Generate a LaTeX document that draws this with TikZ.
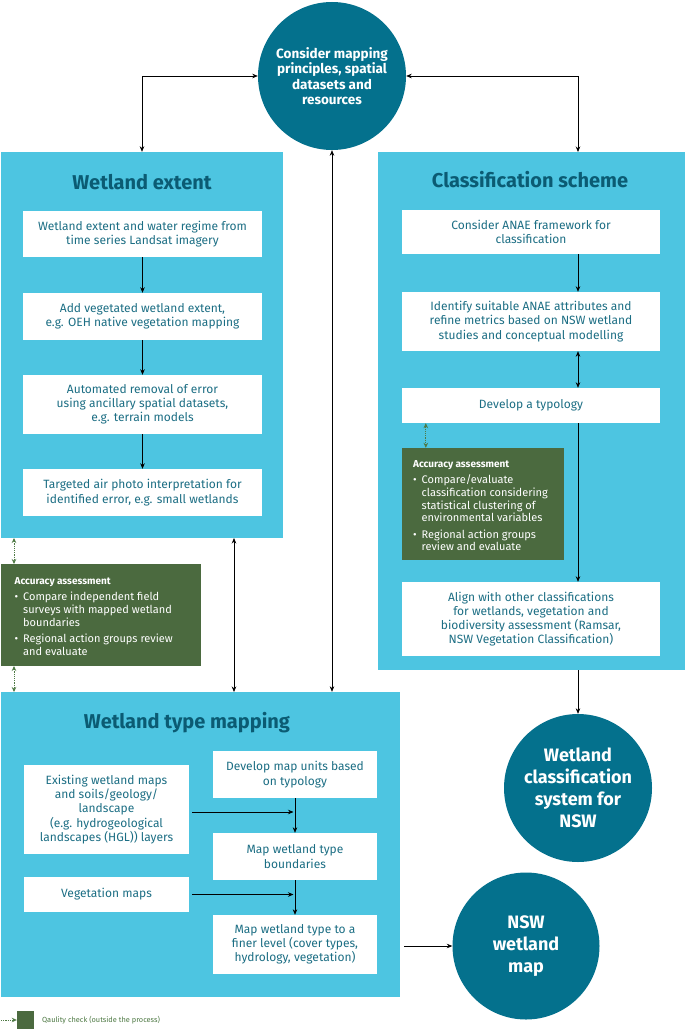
\documentclass[tikz,border=0pt]{standalone}
\usepackage{fontspec}
\setmainfont{Fira Sans}
\usetikzlibrary{arrows.meta,calc}
\definecolor{panel}{HTML}{4DC5E1}
\definecolor{titlec}{HTML}{0B5B73}
\definecolor{boxtext}{HTML}{1C6E84}
\definecolor{circc}{HTML}{04718D}
\definecolor{accg}{HTML}{4B6A3F}
\definecolor{garrc}{HTML}{4F7A45}
\newcommand{\bitem}[2]{\makebox[8.5pt][l]{\textbullet}\parbox[t]{#1}{\raggedright #2}}
\begin{document}
\begin{tikzpicture}[x=1pt,y=-1pt,
  panelbox/.style={fill=panel,draw=none,inner sep=0},
  wbox/.style={fill=white,text=boxtext,align=center,inner sep=0,font=\fontsize{12}{14.2}\selectfont},
  ptitle/.style={text=titlec,font=\fontsize{20}{24}\selectfont\bfseries,inner sep=0},
  circnode/.style={circle,fill=circc,text=white,align=center,inner sep=0},
  accbox/.style={fill=accg,inner sep=0},
  acctext/.style={text=white,align=left,inner sep=0,anchor=north west,font=\fontsize{11}{12.7}\selectfont},
  arr/.style={-{Stealth[length=5.5pt,width=4.5pt]},line width=0.7pt,black},
  darr/.style={{Stealth[length=5.5pt,width=4.5pt]}-{Stealth[length=5.5pt,width=4.5pt]},line width=0.7pt,black},
  garr/.style={{Stealth[length=5pt,width=4.5pt]}-{Stealth[length=5pt,width=4.5pt]},line width=0.7pt,garrc,dash pattern=on 1.2pt off 1pt}
]
\useasboundingbox[fill=white] (0,0) rectangle (685,1030);

% panels
\node[panelbox,minimum width=282pt,minimum height=386pt] (wep) at (142,345) {};
\node[panelbox,minimum width=307pt,minimum height=518pt] (csp) at (531.5,411) {};
\node[panelbox,minimum width=399pt,minimum height=305pt] (wtp) at (200.5,844.5) {};

% titles
\node[ptitle] (wet) at (142,182) {Wetland extent};
\node[ptitle] (cst) at (530,180) {Classification scheme};
\node[ptitle] (wtt) at (187,723) {Wetland type mapping};

% circles
\node[circnode,minimum size=148pt,font=\fontsize{13.5}{15.5}\selectfont\bfseries] (top) at (332,76) {Consider mapping\\principles, spatial\\datasets and\\resources};
\node[circnode,minimum size=148pt,font=\fontsize{18}{22}\selectfont\bfseries] (c2) at (578,788) {Wetland\\classification\\system for\\NSW};
\node[circnode,minimum size=147pt,font=\fontsize{18}{22}\selectfont\bfseries] (c3) at (526,946) {NSW\\wetland\\map};

% wetland extent boxes
\node[wbox,minimum width=239pt,minimum height=46pt] (we1) at (142.5,234) {Wetland extent and water regime from\\time series Landsat imagery};
\node[wbox,minimum width=239pt,minimum height=47pt] (we2) at (142.5,316.5) {Add vegetated wetland extent,\\e.g. OEH native vegetation mapping};
\node[wbox,minimum width=239pt,minimum height=59pt] (we3) at (142.5,404.5) {Automated removal of error\\using ancillary spatial datasets,\\e.g. terrain models};
\node[wbox,minimum width=239pt,minimum height=47pt] (we4) at (142.5,492.5) {Targeted air photo interpretation for\\identified error, e.g. small wetlands};

% classification boxes
\node[wbox,minimum width=258pt,minimum height=44pt] (cs1) at (531,232) {Consider ANAE framework for\\classification};
\node[wbox,minimum width=258pt,minimum height=59pt] (cs2) at (531,321.5) {Identify suitable ANAE attributes and\\refine metrics based on NSW wetland\\studies and conceptual modelling};
\node[wbox,minimum width=258pt,minimum height=35pt] (cs3) at (531,405.5) {Develop a typology};
\node[wbox,minimum width=258pt,minimum height=74pt] (cs4) at (531,619) {Align with other classifications\\for wetlands, vegetation and\\biodiversity assessment (Ramsar,\\NSW Vegetation Classification)};

% accuracy boxes
\node[accbox,minimum width=162pt,minimum height=112pt] (acc2) at (483,504) {};
\node[acctext] (acc2t) at (413,460.5) {{\fontsize{10}{12}\selectfont\bfseries Accuracy assessment}\\[3.5pt]
\bitem{140pt}{Compare/evaluate\\classification considering\\statistical clustering of\\environmental variables}\\[6.5pt]
\bitem{140pt}{Regional action groups\\review and evaluate}};
\node[accbox,minimum width=200pt,minimum height=102pt] (acc1) at (101,615) {};
\node[acctext] (acc1t) at (14.5,577.5) {{\fontsize{10}{12}\selectfont\bfseries Accuracy assessment}\\[3.5pt]
\bitem{175pt}{Compare independent field\\surveys with mapped wetland\\boundaries}\\[6.5pt]
\bitem{175pt}{Regional action groups review\\and evaluate}};

% wetland type mapping boxes
\node[wbox,minimum width=165pt,minimum height=89pt] (wt1) at (106.5,809.5) {Existing wetland maps\\and soils/geology/\\landscape\\(e.g. hydrogeological\\landscapes (HGL)) layers};
\node[wbox,minimum width=165pt,minimum height=35pt] (wt2) at (106.5,894.5) {Vegetation maps};
\node[wbox,minimum width=164pt,minimum height=47pt] (wt3) at (295,774.5) {Develop map units based\\on typology};
\node[wbox,minimum width=164pt,minimum height=47pt] (wt4) at (295,856.5) {Map wetland type\\boundaries};
\node[wbox,minimum width=164pt,minimum height=59pt] (wt5) at (295,944.5) {Map wetland type to a\\finer level (cover types,\\hydrology, vegetation)};

% coordinates
\coordinate (csTop) at (578,152);
\coordinate (weBot) at (234,538);
\coordinate (wtTopA) at (234,692);
\coordinate (cspBot) at (578,670);
\coordinate (ga1) at (14,538);
\coordinate (gb1) at (14,564);
\coordinate (ga2) at (14,666);
\coordinate (gb2) at (14,692);

% connectors from top circle
\draw[darr] (top.west) -| (wep.north);
\draw[darr] (top.east) -| (csTop);
\draw[darr] (top.south) -- (top.south |- wtp.north);
\draw[darr] (weBot) -- (wtTopA);

% wetland extent chain
\draw[arr] (we1) -- (we2);
\draw[arr] (we2) -- (we3);
\draw[arr] (we3) -- (we4);

% classification chain
\draw[arr] (cs1.south -| csTop) -- (cs2.north -| csTop);
\draw[darr] (cs2.south -| csTop) -- (cs3.north -| csTop);
\draw[arr] (cs3.south -| csTop) -- (cs4.north -| csTop);
\draw[arr] (cspBot) -- (c2.north);
\draw[garr] ($(cs3.south west)+(24,0)$) -- ($(acc2.north west)+(24,0)$);

% green quality checks
\draw[garr] (ga1) -- (gb1);
\draw[garr] (ga2) -- (gb2);

% wetland type mapping chain
\draw[arr] (wt3) -- (wt4);
\draw[arr] (wt4) -- (wt5);
\draw[arr] ($(wt1.east)+(3,2.5)$) -- ($(wt1.east -| wt3.south)+(-1.5,2.5)$);
\draw[arr] ($(wt2.east)+(3,0)$) -- ($(wt2.east -| wt3.south)+(-1.5,0)$);
\draw[arr] ($(wtp.east |- c3.west)+(4,0)$) -- (c3.west);

% legend
\node[accbox,minimum width=17pt,minimum height=18pt] (legsq) at (25.5,1020) {};
\coordinate (legstart) at (1,1020);
\draw[-{Stealth[length=5pt,width=4.5pt]},line width=0.7pt,garrc,dash pattern=on 1.2pt off 1pt] (legstart) -- (legsq.west);
\node[anchor=west,inner sep=0,text=garrc,font=\fontsize{7.4}{9}\selectfont] (legt) at (42,1020) {Qaulity check (outside the process)};
\end{tikzpicture}
\end{document}
